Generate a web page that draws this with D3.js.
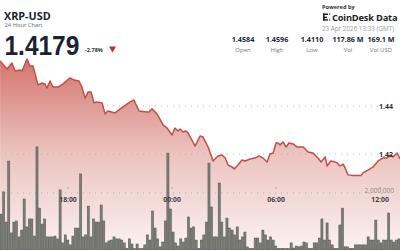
<!DOCTYPE html>
<html><head><meta charset="utf-8">
<script src="https://cdn.jsdelivr.net/npm/d3@7"></script>
<style>
html,body{margin:0;padding:0;background:#fff;}
svg{display:block;font-family:"Open Sans","Noto Sans",sans-serif;}
</style></head>
<body><svg id="c" width="400" height="250"></svg>
<script>
// ---- data ----
const symbol = "XRP-USD";
const subtitle = "24 Hour Chart";
const lastPrice = "1.4179";
const changePct = "-2.78%";
const stampText = "23 Apr 2026 13:33 (GMT)";
const statLabels = ["Open", "High", "Low", "Vol", "Vol USD"];
const statValues = ["1.4584", "1.4596", "1.4110", "117.86 M", "169.1 M"];
const priceTicks = [1.42, 1.44];
const volumeTicks = [2000000];
// price series: minutes after 22 Apr 2026 14:00 UTC
const priceMinutes = [5,29,46,57,74,81,98,108,119,136,150,160,167,178,188,205,223,247,261,278,288,299,309,320,330,340,358,368,378,403,430,455,468,486,513,520,531,548,569,583,600,610,621,628,638,648,655,680,697,707,725,742,759,773,784,794,808,815,825,842,853,870,887,901,915,929,939,950,960,967,974,984,995,1005,1019,1033,1054,1071,1088,1105,1116,1130,1137,1150,1164,1171,1182,1192,1199,1209,1227,1244,1254,1261,1278,1296,1313,1330,1344,1355,1365,1379,1389];
const prices = [1.4588,1.4554,1.4579,1.4546,1.4550,1.4546,1.4596,1.4567,1.4567,1.4488,1.4496,1.4492,1.4475,1.4504,1.4479,1.4479,1.4492,1.4517,1.4508,1.4504,1.4479,1.4433,1.4458,1.4458,1.4413,1.4417,1.4413,1.4367,1.4379,1.4371,1.4396,1.4417,1.4425,1.4379,1.4375,1.4375,1.4388,1.4367,1.4321,1.4308,1.4279,1.4308,1.4296,1.4304,1.4292,1.4296,1.4288,1.4233,1.4275,1.4271,1.4229,1.4171,1.4192,1.4196,1.4183,1.4154,1.4146,1.4138,1.4150,1.4175,1.4171,1.4179,1.4183,1.4192,1.4183,1.4167,1.4200,1.4204,1.4246,1.4246,1.4238,1.4250,1.4229,1.4246,1.4242,1.4229,1.4229,1.4208,1.4204,1.4183,1.4167,1.4188,1.4150,1.4171,1.4167,1.4163,1.4150,1.4158,1.4142,1.4113,1.4110,1.4110,1.4110,1.4121,1.4133,1.4146,1.4171,1.4183,1.4183,1.4196,1.4188,1.4204,1.4179];
// volume per bar, millions
const volumes = [1.26,2.04,0.98,3.12,0.60,0.98,1.02,0.46,0.70,1.79,0.81,1.09,1.09,0.49,3.62,1.47,0.91,1.09,0.46,0.46,0.46,0.49,0.39,2.11,0.25,0.53,0.35,0.18,0.49,0.77,0.77,2.67,0.46,0.53,1.54,0.46,1.09,
0.98,0.98,1.58,1.02,0.25,0.32,0.35,0.46,0.39,0.39,0.35,0.25,0.05,0.39,0.21,0.05,0.21,0.05,0.05,0.18,0.53,0.35,1.37,0.77,0.39,0.11,0.28,1.02,3.40,1.44,0.63,0.25,0.14,0.39,0.28,0.42,1.16,0.77,0.81,
0.35,0.05,0.35,0.53,0.98,3.05,1.51,0.46,0.46,2.35,0.98,0.46,1.12,0.77,0.70,0.53,0.81,0.35,0.46,0.63,0.11,0.05,0.05,0.42,0.42,0.25,0.70,0.53,0.35,0.46,0.35,0.14,0.05,0.05,0.05,0.05,0.05,0.25,0.07,0.14,0.11,0.14,0.28,0.25,0.05,0.05,0.25,0.25,0.42,1.09,0.35,0.95,0.35,0.18,0.05,0.05,0.88,1.47,0.11,0.11,0.05,0.05,0.18,0.18,0.18,0.18,0.18,0.46,0.35,0.35,1.05,0.35,0.25,0.35,0.35,1.30,0.35,0.28,0.35,0.39];

// ---- drawing ----
const W = 400, H = 250;
const svg = d3.select("#c");
const t0 = Date.UTC(2026, 3, 22, 14, 0);
const pts = priceMinutes.map((m, i) => ({ t: new Date(t0 + m * 60000), p: prices[i] }));

const x = d3.scaleUtc()
  .domain([new Date(t0 + 4.6 * 60000), new Date(t0 + 1389 * 60000)])
  .range([0, W]);
const y = d3.scaleLinear().domain([1.42, 1.44]).range([154, 106]);
const xb = d3.scaleBand().domain(d3.range(volumes.length)).range([0, W]).paddingInner(0.18);
const yv = d3.scaleLinear().domain([0, 2]).range([H, 193]);

const defs = svg.append("defs");
const g = defs.append("linearGradient").attr("id", "fillg")
  .attr("gradientUnits", "userSpaceOnUse").attr("x1", 0).attr("x2", 0).attr("y1", 58).attr("y2", H);
g.append("stop").attr("offset", 0).attr("stop-color", "#c9564b").attr("stop-opacity", 0.82);
g.append("stop").attr("offset", 0.5).attr("stop-color", "#c9564b").attr("stop-opacity", 0.35);
g.append("stop").attr("offset", 1).attr("stop-color", "#c9564b").attr("stop-opacity", 0.08);

// area
svg.append("path").datum(pts)
  .attr("d", d3.area().x(d => x(d.t)).y0(H).y1(d => y(d.p)))
  .attr("fill", "url(#fillg)");

// grid lines
const dot = "1,5";
svg.selectAll(".pg").data(priceTicks).join("line")
  .attr("x1", 5).attr("x2", 378).attr("y1", d => y(d)).attr("y2", d => y(d))
  .attr("stroke", "#b8b0ae").attr("stroke-width", 1).attr("stroke-dasharray", dot);
svg.selectAll(".vg").data(volumeTicks).join("line")
  .attr("x1", 5).attr("x2", 362).attr("y1", d => yv(d / 1e6)).attr("y2", d => yv(d / 1e6))
  .attr("stroke", "#b8b0ae").attr("stroke-width", 1).attr("stroke-dasharray", dot);

// volume bars
svg.selectAll(".bar").data(volumes).join("rect")
  .attr("x", (d, i) => xb(i)).attr("width", xb.bandwidth())
  .attr("y", d => yv(d)).attr("height", d => H - yv(d))
  .attr("fill", "#7b7f78").attr("stroke", "#51554f").attr("stroke-width", 0.5);

// price line
svg.append("path").datum(pts)
  .attr("d", d3.line().x(d => x(d.t)).y(d => y(d.p)))
  .attr("fill", "none").attr("stroke", "#c24f45").attr("stroke-width", 1.5).attr("stroke-linejoin", "round");

// price axis labels
svg.selectAll(".pl").data(priceTicks).join("text")
  .attr("x", 393).attr("y", d => y(d) + 2.5).attr("text-anchor", "end")
  .attr("font-size", 7).attr("font-weight", 700).attr("fill", "#333")
  .text(d => d3.format(".2f")(d));
svg.selectAll(".vl").data(volumeTicks).join("text")
  .attr("x", 394).attr("y", d => yv(d / 1e6) - 0.5).attr("text-anchor", "end")
  .attr("font-size", 6.5).attr("fill", "#8a8a8a")
  .text(d => d3.format(",")(d));

// time axis
const xt = x.ticks(d3.utcHour.every(6));
svg.selectAll(".tk").data(xt).join("rect")
  .attr("x", d => x(d) - 0.5).attr("y", 187).attr("width", 1).attr("height", 1.5).attr("fill", "#999");
svg.selectAll(".tl").data(xt).join("text")
  .attr("x", d => x(d)).attr("y", 202).attr("text-anchor", "middle")
  .attr("font-size", 6.8).attr("font-weight", 700).attr("fill", "#3a3f45")
  .text(d => d3.utcFormat("%H:%M")(d));

// header
const hdr = svg.append("g").attr("fill", "#1b2332");
hdr.append("text").attr("x", 4).attr("y", 19.5).attr("font-size", 10.8).attr("font-weight", 700).text(symbol);
hdr.append("text").attr("x", 4.5).attr("y", 27).attr("font-size", 5.8).attr("fill", "#666").text(subtitle);
hdr.append("text").attr("transform", "translate(4.5,54.5) scale(0.89,1)").attr("font-family", "'Liberation Sans',Arial,sans-serif")
  .attr("font-size", 27.5).attr("font-weight", 700).text(lastPrice);
hdr.append("text").attr("x", 85).attr("y", 52).attr("font-size", 5.5).attr("font-weight", 700).attr("fill", "#333").text(changePct);
hdr.append("path").attr("d", d3.line()([[109, 46.5], [116, 46.5], [112.5, 52.5]]) + "Z").attr("fill", "#c0302a");

// powered by
svg.append("text").attr("x", 322).attr("y", 8.5).attr("font-size", 5.6).attr("font-weight", 700).attr("fill", "#333").text("Powered by");
const logo = svg.append("g").attr("fill", "#1b1f24");
logo.append("rect").attr("x", 323).attr("y", 13.5).attr("width", 1.6).attr("height", 7);
logo.append("rect").attr("x", 323).attr("y", 13.5).attr("width", 5).attr("height", 1.5);
logo.append("rect").attr("x", 323).attr("y", 16.7).attr("width", 4).attr("height", 1.4);
logo.append("rect").attr("x", 323).attr("y", 19.2).attr("width", 5).attr("height", 1.4);
logo.append("rect").attr("x", 329).attr("y", 13.5).attr("width", 1.2).attr("height", 1.2);
logo.append("rect").attr("x", 329).attr("y", 19.4).attr("width", 1.2).attr("height", 1.2);
logo.append("text").attr("x", 332).attr("y", 20.5).attr("font-size", 9.3).attr("font-weight", 700).attr("letter-spacing", -0.2)
  .text("CoinDesk Data");
svg.append("text").attr("x", 394).attr("y", 31).attr("text-anchor", "end").attr("font-size", 6.3).attr("fill", "#9a9a9a").text(stampText);

// stats
const statX = [243, 277, 312, 348, 381];
svg.selectAll(".sv").data(statValues).join("text")
  .attr("x", (d, i) => statX[i]).attr("y", 42).attr("text-anchor", "middle")
  .attr("font-size", 7.2).attr("font-weight", 700).attr("fill", "#1b2332").text(d => d);
svg.selectAll(".sl").data(statLabels).join("text")
  .attr("x", (d, i) => statX[i]).attr("y", 51.5).attr("text-anchor", "middle")
  .attr("font-size", 6).attr("fill", "#777").text(d => d);
</script></body></html>
